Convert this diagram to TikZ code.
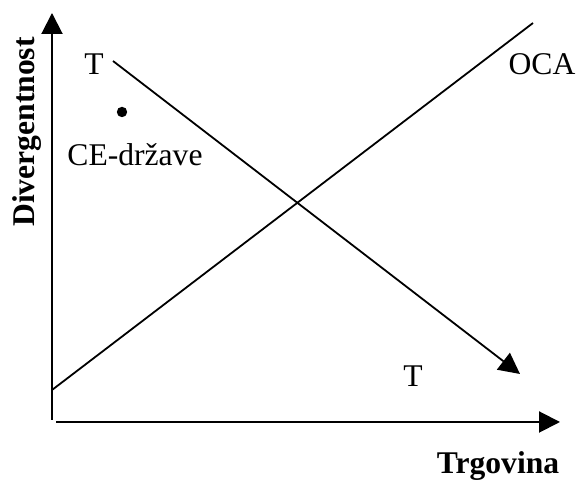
\documentclass[tikz,border=0pt]{standalone}
\usepackage{fontspec}
\setmainfont{Liberation Serif}
\usepackage{tikz}
\usetikzlibrary{arrows.meta, positioning}

\tikzset{
  axisline/.style={line width=1pt, -{Triangle[length=10.5pt,width=10.5pt]}},
  curveline/.style={line width=0.9pt},
  lbl/.style={font=\fontsize{15.8}{18}\selectfont, inner sep=0pt, anchor=base},
  axislbl/.style={font=\fontsize{15.8}{18}\selectfont\bfseries, inner sep=0pt, anchor=base}
}

\begin{document}
\begin{tikzpicture}[x=0.5pt, y=0.5pt]
        \useasboundingbox (0,0) rectangle (578,480);
        % Axes
        \coordinate (yorig) at (52,60);
        \coordinate (ytop) at (52,467);
        \coordinate (xorig) at (56,58);
        \coordinate (xend) at (560,58);
        \draw[axisline] (yorig) -- (ytop);
        \draw[axisline] (xorig) -- (xend);
        % Axis labels
        \node[axislbl,rotate=90] (div) at (35,348) {Divergentnost};
        \node[axislbl] (trg) at (498,6) {Trgovina};
        % OCA line
        \coordinate (ocaA) at (52,90);
        \coordinate (ocaB) at (533,457);
        \draw[curveline] (ocaA) -- (ocaB);
        \node[lbl] (oca) at (542,405) {OCA};
        % T line
        \coordinate (tA) at (113,419);
        \coordinate (tB) at (520,106);
        \draw[curveline,-{Triangle[length=10.5pt,width=10.5pt]}] (tA) -- (tB);
        \node[lbl] (ttop) at (94,405) {T};
        \node[lbl] (tbot) at (413,93) {T};
        % CE countries
        \fill (122,368) circle (2.6pt);
        \node[lbl] (ce) at (135,314) {CE-države};
      \end{tikzpicture}
\end{document}
